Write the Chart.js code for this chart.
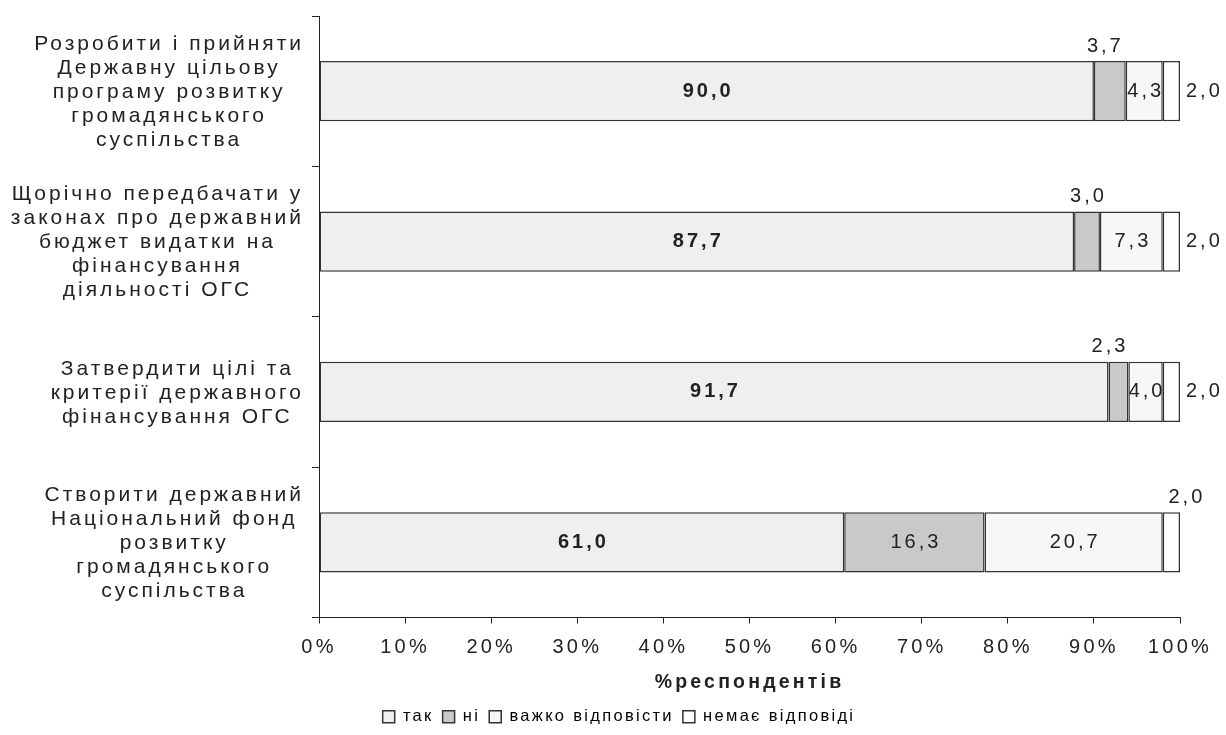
<!DOCTYPE html>
<html>
<head>
<meta charset="utf-8">
<script src="https://cdn.jsdelivr.net/npm/chart.js@4/dist/chart.umd.min.js"></script>
<style>
  html, body { margin: 0; padding: 0; background: #fff; }
  #wrap { width: 1226px; height: 735px; position: relative; }
</style>
</head>
<body>
<div id="wrap"><canvas id="c" width="1226" height="735"></canvas></div>
<script>
// Survey: measures for state support of civil society organisations
const categories = [
  ['Розробити і прийняти', 'Державну цільову', 'програму розвитку', 'громадянського', 'суспільства'],
  ['Щорічно передбачати у', 'законах про державний', 'бюджет видатки на', 'фінансування', 'діяльності ОГС'],
  ['Затвердити цілі та', 'критерії державного', 'фінансування ОГС'],
  ['Створити державний', 'Національний фонд', 'розвитку', 'громадянського', 'суспільства']
];
const seriesNames = ['так', 'ні', 'важко відповісти', 'немає відповіді'];
const yesValues = [90.0, 87.7, 91.7, 61.0];
const noValues = [3.7, 3.0, 2.3, 16.3];
const hardValues = [4.3, 7.3, 4.0, 20.7];
const noAnswerValues = [2.0, 2.0, 2.0, 2.0];
const xTicks = [0, 10, 20, 30, 40, 50, 60, 70, 80, 90, 100];

// where each value label sits relative to its segment: one row per series, one entry per category
const labelPlacement = [
  ['center', 'center', 'center', 'center'],
  ['above', 'above', 'above', 'center'],
  ['center', 'center', 'center', 'center'],
  ['right', 'right', 'right', 'above']
];
// small sideways nudges for the labels placed above their segment
const labelNudge = [
  [0, 0, 0, 0],
  [-6, 0, -10, 0],
  [0, 0, 0, 0],
  [0, 0, 0, 14]
];

const FONT = '"Liberation Sans", Arial, sans-serif';
const INK = '#222222';
const EDGE = '#333333';
const fills = ['#eeeff1', '#c8c9cb', '#f7f7f7', '#ffffff'];
const allValues = [yesValues, noValues, hardValues, noAnswerValues];
const SPACING = 3.2;
const LEGEND_SPACING = 2.3;
const LEGEND_SHIFT = 29;
const CAT_SPACING = 3;
const VAL_SPACING = 3;

const fmt = v => v.toFixed(1).replace('.', ',');

// wide letter spacing for the axis and title text; the legend gets its own
const spacingPlugin = {
  id: 'spacing',
  afterInit(chart) {
    const lg = chart.legend;
    if (!lg) return;
    const origFit = lg.fit;
    const origDraw = lg.draw;
    lg.fit = function (...args) {
      const ctx = chart.ctx;
      const prev = ctx.letterSpacing;
      ctx.letterSpacing = LEGEND_SPACING + 'px';
      const r = origFit.apply(this, args);
      ctx.letterSpacing = prev;
      return r;
    };
    lg.draw = function (...args) {
      const ctx = chart.ctx;
      ctx.save();
      ctx.letterSpacing = LEGEND_SPACING + 'px';
      ctx.translate(LEGEND_SHIFT, 0);
      const r = origDraw.apply(this, args);
      ctx.restore();
      return r;
    };
  },
  beforeUpdate(chart) { chart.ctx.letterSpacing = SPACING + 'px'; },
  beforeDraw(chart) { chart.ctx.letterSpacing = SPACING + 'px'; }
};

// multi-line category names, each line centred inside a right-aligned block
const categoryLabels = {
  id: 'categoryLabels',
  afterDraw(chart) {
    const ctx = chart.ctx;
    const ys = chart.scales.y;
    ctx.save();
    ctx.letterSpacing = CAT_SPACING + 'px';
    ctx.font = '21px ' + FONT;
    ctx.fillStyle = INK;
    ctx.textAlign = 'left';
    ctx.textBaseline = 'middle';
    const lh = 24;
    const right = 301;
    categories.forEach((lines, i) => {
      const cy = ys.getPixelForValue(i) + 1;
      const widths = lines.map(l => ctx.measureText(l).width - CAT_SPACING);
      const w = Math.max(...widths);
      const cx = right - w / 2;
      const top = cy - (lines.length - 1) * lh / 2;
      lines.forEach((l, k) => ctx.fillText(l, cx - widths[k] / 2, top + k * lh));
    });
    ctx.restore();
  }
};

// value labels on, above or beside each segment
const valueLabels = {
  id: 'valueLabels',
  afterDatasetsDraw(chart) {
    const ctx = chart.ctx;
    ctx.save();
    ctx.letterSpacing = VAL_SPACING + 'px';
    ctx.fillStyle = INK;
    ctx.textBaseline = 'middle';
    ctx.textAlign = 'left';
    chart.data.datasets.forEach((ds, d) => {
      const meta = chart.getDatasetMeta(d);
      meta.data.forEach((el, i) => {
        const p = el.getProps(['x', 'y', 'base', 'height'], true);
        const text = fmt(ds.data[i]);
        const place = labelPlacement[d][i];
        ctx.font = (d === 0 ? 'bold ' : '') + '20px ' + FONT;
        const tw = ctx.measureText(text).width - VAL_SPACING;
        let x, y;
        if (place === 'center') {
          x = (p.x + p.base) / 2 - tw / 2; y = p.y;
        } else if (place === 'above') {
          x = (p.x + p.base) / 2 - tw / 2 + labelNudge[d][i]; y = p.y - p.height / 2 - 15;
        } else {
          x = p.x + 6; y = p.y;
        }
        ctx.fillText(text, x, y);
      });
    });
    ctx.restore();
  }
};

const datasets = allValues.map((vals, d) => ({
  label: seriesNames[d],
  data: vals,
  backgroundColor: fills[d],
  borderColor: EDGE,
  borderWidth: 1.5,
  borderSkipped: false,
  barPercentage: 0.4,
  categoryPercentage: 1.0
}));

new Chart(document.getElementById('c'), {
  type: 'bar',
  data: { labels: categories.map(c => c.join(' ')), datasets },
  plugins: [spacingPlugin, categoryLabels, valueLabels],
  options: {
    indexAxis: 'y',
    responsive: false,
    animation: false,
    layout: { padding: { top: 16, right: 46, left: 0, bottom: 0 } },
    scales: {
      x: {
        stacked: true,
        min: 0, max: 100,
        afterBuildTicks(s) { s.ticks = xTicks.map(v => ({ value: v })); },
        afterFit(s) { s.height = 82; },
        grid: { drawOnChartArea: false, drawTicks: true, tickLength: 6, color: INK, tickColor: INK },
        border: { display: true, color: INK, width: 1 },
        ticks: {
          padding: 12,
          color: INK,
          font: { family: FONT, size: 20 },
          maxRotation: 0,
          callback: v => v + '%'
        },
        title: {
          display: true,
          text: '%респондентів',
          color: INK,
          font: { family: FONT, size: 19.5, weight: 'bold' },
          padding: { top: 4, bottom: 5 }
        }
      },
      y: {
        stacked: true,
        afterFit(s) { s.width = 319; },
        grid: { drawOnChartArea: false, drawTicks: true, tickLength: 7, offset: true, color: INK, tickColor: INK },
        border: { display: true, color: INK, width: 1 },
        ticks: { display: false }
      }
    },
    plugins: {
      legend: {
        position: 'bottom',
        labels: {
          color: INK,
          font: { family: FONT, size: 16.5 },
          boxWidth: 12,
          boxHeight: 12,
          padding: 9,
          generateLabels(chart) {
            return chart.data.datasets.map((ds, i) => ({
              text: ds.label,
              fillStyle: ds.backgroundColor,
              strokeStyle: EDGE,
              lineWidth: 1.5,
              datasetIndex: i
            }));
          }
        }
      },
      tooltip: { enabled: false }
    }
  }
});
</script>
</body>
</html>
